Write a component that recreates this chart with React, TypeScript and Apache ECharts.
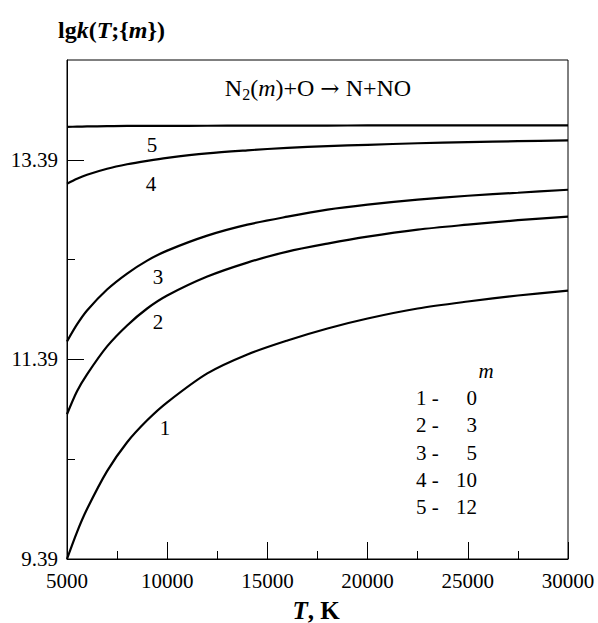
import React, { useEffect, useRef } from "react";
import * as echarts from "echarts";

const T = [5000, 5500, 6000, 7000, 8000, 9000, 10000, 12000, 14000, 16000, 18000, 20000, 22500, 25000, 27500, 30000];
const m0 = [9.39, 9.66, 9.89, 10.27, 10.56, 10.78, 10.96, 11.25, 11.44, 11.58, 11.7, 11.8, 11.9, 11.97, 12.03, 12.08];
const m3 = [10.84, 11.07, 11.24, 11.52, 11.73, 11.9, 12.03, 12.22, 12.36, 12.47, 12.55, 12.62, 12.69, 12.74, 12.785, 12.82];
const m5 = [11.57, 11.74, 11.88, 12.09, 12.25, 12.38, 12.48, 12.63, 12.74, 12.82, 12.89, 12.94, 12.99, 13.03, 13.06, 13.09];
const m10 = [13.15, 13.2, 13.24, 13.3, 13.345, 13.38, 13.41, 13.455, 13.485, 13.51, 13.527, 13.54, 13.556, 13.567, 13.577, 13.585];
const m12 = [13.72, 13.722, 13.724, 13.727, 13.73, 13.73, 13.73, 13.731, 13.732, 13.733, 13.733, 13.734, 13.734, 13.735, 13.735, 13.735];

const curveNames = ["1", "2", "3", "4", "5"];
const mValues = ["0", "3", "5", "10", "12"];
const yLabels = [9.39, 11.39, 13.39];
const yMinor = [10.39, 12.39];

const FONT = "Liberation Serif";

export default function App() {
  const ref = useRef<HTMLDivElement>(null);
  useEffect(() => {
    if (!ref.current) return;
    const chart = echarts.init(ref.current, null, { renderer: "svg" });
    const series = [m0, m3, m5, m10, m12].map((arr, i) => ({
      type: "line",
      name: curveNames[i],
      data: T.map((t, j) => [t, arr[j]]),
      symbol: "none",
      smooth: 0.3,
      lineStyle: { color: "#000", width: 2.2 },
      xAxisIndex: 0,
      yAxisIndex: 0,
    }));
    const txt = (x: number, y: number, text: string, align = "center", extra: any = {}) => ({
      type: "text",
      x,
      y,
      style: {
        text,
        fill: "#000",
        font: `21px "${FONT}"`,
        align,
        verticalAlign: "middle",
        ...extra,
      },
    });
    const graphics: any[] = [
      // title
      {
        type: "text",
        x: 58,
        y: 30,
        style: {
          text: "{b|lg}{bi|k}{b|(}{bi|T}{b|;{}{bi|m}})",
          font: `bold 24px "${FONT}"`,
          fill: "#000",
          verticalAlign: "middle",
          align: "left",
          rich: {
            b: { fontFamily: FONT, fontSize: 24, fontWeight: "bold", fill: "#000" },
            bi: { fontFamily: FONT, fontSize: 24, fontWeight: "bold", fontStyle: "italic", fill: "#000" },
          },
        },
      },
      // reaction
      {
        type: "text",
        x: 318,
        y: 88,
        style: {
          text: "{r|N}{s|2}{r|(}{i|m}{r|)+O }{a|→}{r| N+NO}",
          verticalAlign: "middle",
          align: "center",
          rich: {
            r: { fontFamily: FONT, fontSize: 24, fill: "#000" },
            a: { fontFamily: "DejaVu Serif", fontSize: 23, fill: "#000" },
            i: { fontFamily: FONT, fontSize: 24, fontStyle: "italic", fill: "#000" },
            s: { fontFamily: FONT, fontSize: 16, fill: "#000", padding: [13, 0, 0, 0] },
          },
        },
      },
      // x axis name
      {
        type: "text",
        x: 316,
        y: 610,
        style: {
          text: "{bi|T}{b|, K}",
          verticalAlign: "middle",
          align: "center",
          rich: {
            b: { fontFamily: FONT, fontSize: 25, fontWeight: "bold", fill: "#000" },
            bi: { fontFamily: FONT, fontSize: 25, fontWeight: "bold", fontStyle: "italic", fill: "#000" },
          },
        },
      },
      // curve labels
      txt(152, 145, curveNames[4]),
      txt(151, 184, curveNames[3]),
      txt(158, 277, curveNames[2]),
      txt(158, 322, curveNames[1]),
      txt(165, 428, curveNames[0]),
      // legend
      txt(486, 371, "m", "center", { font: `italic 21px "${FONT}"` }),
    ];
    curveNames.forEach((c, i) => {
      const y = 398 + i * 27.3;
      graphics.push(txt(416, y, c + " -", "left"));
      graphics.push(txt(477, y, mValues[i], "right"));
    });

    chart.setOption({
      animation: false,
      backgroundColor: "#fff",
      grid: {
        left: 67,
        right: 30,
        top: 60,
        bottom: 64,
        show: true,
        borderColor: "#000",
        borderWidth: 1,
        backgroundColor: "transparent",
      },
      xAxis: {
        type: "value",
        min: 5000,
        max: 30000,
        interval: 5000,
        axisLine: { show: true, lineStyle: { color: "#000", width: 1 } },
        axisTick: { show: true, inside: true, length: 17, lineStyle: { color: "#000", width: 1 } },
        minorTick: { show: true, splitNumber: 2, length: 8, lineStyle: { color: "#000", width: 1 } },
        splitLine: { show: false },
        axisLabel: {
          color: "#000",
          fontFamily: FONT,
          fontSize: 21,
          margin: 11,
          formatter: (v: number) => String(v),
        },
      },
      yAxis: [
        {
          type: "value",
          min: 9.39,
          max: 14.39,
          axisLine: { show: true, lineStyle: { color: "#000", width: 1 } },
          axisTick: {
            show: true,
            inside: true,
            length: 17,
            customValues: yLabels,
            lineStyle: { color: "#000", width: 1 },
          },
          splitLine: { show: false },
          axisLabel: {
            color: "#000",
            fontFamily: FONT,
            fontSize: 21,
            margin: 9,
            customValues: yLabels,
            formatter: (v: number) => v.toFixed(2),
          },
        },
        {
          type: "value",
          min: 9.39,
          max: 14.39,
          position: "left",
          axisLine: { show: false },
          axisTick: {
            show: true,
            inside: true,
            length: 8,
            customValues: yMinor,
            lineStyle: { color: "#000", width: 1 },
          },
          splitLine: { show: false },
          axisLabel: { show: false },
        },
      ],
      series,
      graphic: graphics,
    });
    return () => chart.dispose();
  }, []);
  return (
    <div
      ref={ref}
      style={{ position: "absolute", left: 0, top: 0, width: 598, height: 623, background: "#fff" }}
    />
  );
}
